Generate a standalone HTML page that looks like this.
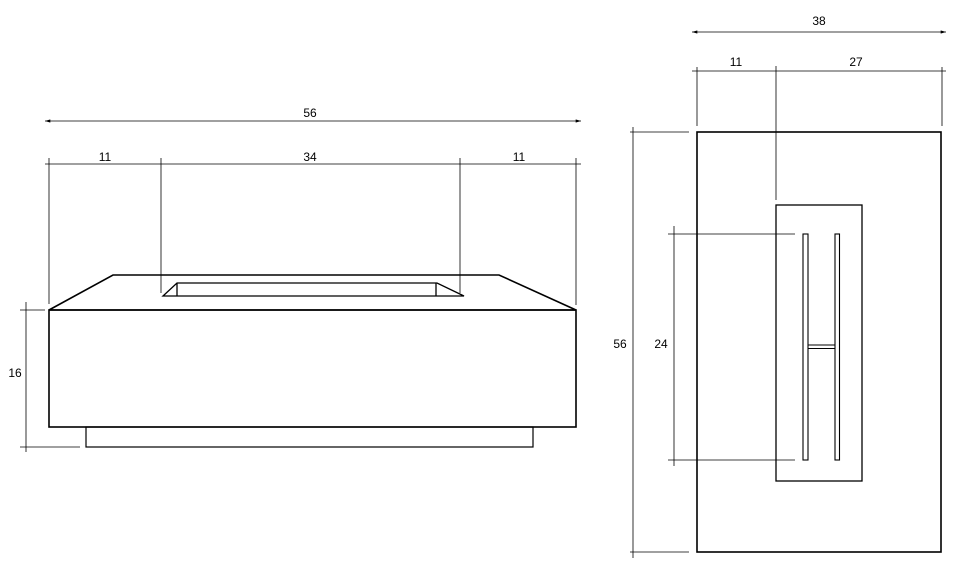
<!DOCTYPE html>
<html><head><meta charset="utf-8"><style>
html,body{margin:0;padding:0;background:#fff;width:978px;height:583px;overflow:hidden}
text{font-family:"Liberation Sans",Arial,sans-serif;font-size:12px;fill:#000}
</style></head><body>
<svg width="978" height="583" viewBox="0 0 978 583" xmlns="http://www.w3.org/2000/svg">
<defs>
<marker id="a" viewBox="0 0 10 6" refX="10" refY="3" markerWidth="8" markerHeight="4" orient="auto-start-reverse"><path d="M0,0 L10,3 L0,6 z" fill="#000"/></marker>
</defs>
<!-- LEFT VIEW dimension lines -->
<g stroke="#000" stroke-width="0.8" fill="none">
<line x1="45" y1="121" x2="581" y2="121" marker-start="url(#a)" marker-end="url(#a)"/>
<line x1="45" y1="164" x2="581" y2="164"/>
<line x1="49" y1="158" x2="49" y2="304"/>
<line x1="161" y1="158" x2="161" y2="293"/>
<line x1="460" y1="158" x2="460" y2="293"/>
<line x1="576" y1="158" x2="576" y2="305"/>
<line x1="26" y1="302" x2="26" y2="452"/>
<line x1="20" y1="310" x2="45" y2="310"/>
<line x1="20" y1="447" x2="80" y2="447"/>
</g>
<text x="310" y="117" text-anchor="middle">56</text>
<text x="105" y="161" text-anchor="middle">11</text>
<text x="310" y="161" text-anchor="middle">34</text>
<text x="519" y="161" text-anchor="middle">11</text>
<text x="15" y="377" text-anchor="middle">16</text>
<!-- LEFT VIEW shape -->
<g stroke="#000" stroke-width="1.6" fill="none">
<polygon points="49,310 113,275 499,275 576,310"/>
<rect x="49" y="310" width="527" height="117"/>
<rect x="86" y="427" width="447" height="20" stroke-width="1.2"/>
<polygon points="163,296 177,283 437,283 464,296" stroke-width="1.3"/>
<line x1="177" y1="283" x2="177" y2="296" stroke-width="1.3"/>
<line x1="436" y1="283" x2="436" y2="296" stroke-width="1.3"/>
</g>
<!-- RIGHT VIEW dimensions -->
<g stroke="#000" stroke-width="0.8" fill="none">
<line x1="692" y1="32" x2="946" y2="32" marker-start="url(#a)" marker-end="url(#a)"/>
<line x1="692" y1="71" x2="946" y2="71"/>
<line x1="697" y1="67" x2="697" y2="126"/>
<line x1="776" y1="66" x2="776" y2="200"/>
<line x1="942" y1="67" x2="942" y2="126"/>
<line x1="633" y1="127" x2="633" y2="558"/>
<line x1="630" y1="132" x2="689" y2="132"/>
<line x1="630" y1="552" x2="689" y2="552"/>
<line x1="674" y1="226" x2="674" y2="466"/>
<line x1="668" y1="234" x2="795" y2="234"/>
<line x1="668" y1="460" x2="795" y2="460"/>
</g>
<text x="819" y="25" text-anchor="middle">38</text>
<text x="736" y="66" text-anchor="middle">11</text>
<text x="856" y="66" text-anchor="middle">27</text>
<text x="620" y="348" text-anchor="middle">56</text>
<text x="661" y="348" text-anchor="middle">24</text>
<!-- RIGHT VIEW shape -->
<g stroke="#000" fill="none">
<rect x="697" y="132" width="244" height="420" stroke-width="1.6"/>
<rect x="776" y="205" width="86" height="276" stroke-width="1.3"/>
<rect x="803" y="234" width="5" height="226" stroke-width="1.1"/>
<rect x="835" y="234" width="4.5" height="226" stroke-width="1.1"/>
<rect x="808" y="345" width="27" height="3.5" stroke-width="1"/>
</g>
</svg>
</body></html>
